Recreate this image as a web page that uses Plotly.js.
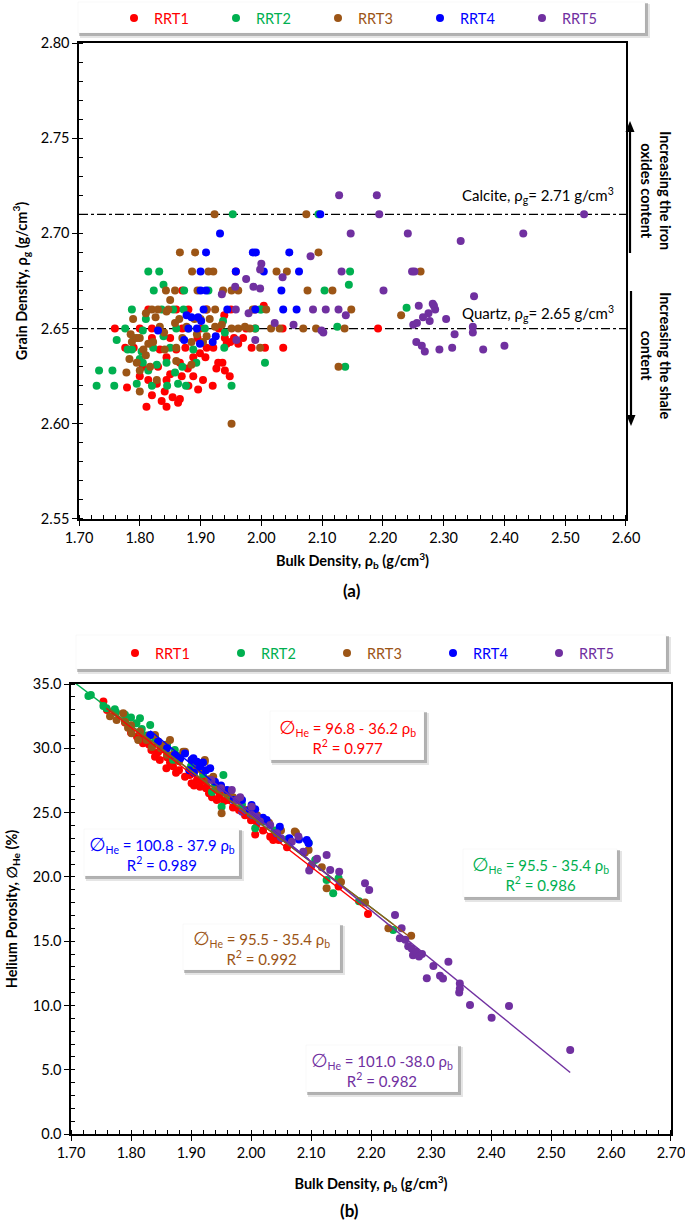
<!DOCTYPE html>
<html><head><meta charset="utf-8">
<script src="https://cdn.plot.ly/plotly-3.0.1.min.js"></script>
<style>html,body{margin:0;padding:0;background:#fff}#chart{width:685px;height:1224px}</style>
</head><body><div id="chart"></div>
<script>
// ---------------- DATA ----------------
const categories = ['RRT1', 'RRT2', 'RRT3', 'RRT4', 'RRT5'];

// (a) Bulk density vs grain density
const rhobA_RRT1 = [1.759,1.776,1.779,1.811,1.836,1.844,1.854,1.863,1.866,1.841,1.814,1.844,1.869,1.888,1.904,1.896,1.929,1.936,1.926,1.940,1.948,1.899,1.908,1.910,1.921,1.943,1.949,1.962,1.984,2.006,2.036,1.939,2.004,2.035,1.814,1.870,1.958,1.833,1.844,1.860,1.866,1.800,1.850,1.828,1.879,1.888,2.192,1.800,1.820,1.870,1.900,1.930,1.975,1.990,1.790,1.820,1.830,1.850,1.875,1.895,1.940,1.955,1.860,1.880,1.910,1.950,1.880,1.820,1.805,1.920,1.990,1.970];
const rhogA_RRT1 = [2.650,2.640,2.619,2.609,2.612,2.609,2.614,2.611,2.613,2.617,2.623,2.623,2.625,2.625,2.623,2.618,2.632,2.632,2.629,2.628,2.625,2.637,2.635,2.640,2.640,2.642,2.643,2.642,2.640,2.640,2.640,2.657,2.662,2.650,2.660,2.670,2.680,2.639,2.635,2.639,2.632,2.625,2.626,2.621,2.629,2.635,2.650,2.650,2.650,2.650,2.650,2.650,2.650,2.650,2.640,2.645,2.630,2.645,2.640,2.645,2.645,2.645,2.660,2.660,2.660,2.660,2.620,2.615,2.630,2.620,2.660,2.645];

const rhobA_RRT2 = [1.733,1.755,1.729,1.758,1.762,1.780,1.787,1.800,1.805,1.795,1.814,1.828,1.844,1.858,1.863,1.876,1.888,1.893,1.940,1.939,1.951,2.006,1.937,1.839,1.805,1.776,1.803,1.822,1.872,1.855,1.836,1.787,1.814,1.832,1.823,1.839,1.873,1.913,1.953,1.998,2.094,2.104,2.125,2.146,2.144,2.138,2.239,1.850,1.870,1.880,1.810,1.790,1.860,1.820,1.845,1.907,1.990,2.000];
const rhogA_RRT2 = [2.628,2.628,2.620,2.620,2.644,2.639,2.639,2.634,2.632,2.621,2.628,2.631,2.632,2.627,2.621,2.620,2.639,2.632,2.648,2.640,2.620,2.632,2.654,2.646,2.649,2.650,2.638,2.640,2.660,2.660,2.660,2.660,2.680,2.680,2.670,2.673,2.670,2.670,2.710,2.660,2.710,2.670,2.651,2.680,2.673,2.630,2.661,2.640,2.630,2.650,2.655,2.645,2.650,2.620,2.620,2.650,2.650,2.660];

const rhobA_RRT3 = [1.778,1.800,1.783,1.787,1.785,1.789,1.810,1.826,1.844,1.833,1.858,1.877,1.894,1.910,1.904,1.885,1.860,1.841,1.822,1.814,1.806,1.810,1.795,1.800,1.817,1.828,1.860,1.885,1.924,1.935,1.951,1.962,1.973,1.981,2.016,2.069,2.137,2.148,1.998,1.866,1.891,2.094,1.923,2.074,1.886,1.913,1.921,2.025,2.042,2.262,1.843,1.858,1.895,1.937,1.951,1.962,2.076,2.117,1.847,1.910,1.924,1.986,2.008,2.127,1.951,2.230,1.795,1.840,1.870,1.900,1.820,1.850,1.830,1.865,1.890,1.800,1.915,2.030,2.090];
const rhogA_RRT3 = [2.627,2.617,2.634,2.643,2.647,2.655,2.658,2.656,2.659,2.651,2.653,2.651,2.647,2.646,2.643,2.643,2.640,2.639,2.643,2.642,2.639,2.636,2.632,2.628,2.630,2.623,2.633,2.631,2.651,2.652,2.650,2.650,2.651,2.650,2.650,2.650,2.650,2.660,2.640,2.690,2.690,2.690,2.710,2.710,2.680,2.680,2.680,2.680,2.680,2.680,2.670,2.670,2.670,2.670,2.670,2.670,2.670,2.670,2.660,2.660,2.660,2.660,2.660,2.630,2.600,2.657,2.645,2.648,2.645,2.655,2.660,2.665,2.660,2.655,2.655,2.645,2.655,2.650,2.650];

const rhobA_RRT4 = [1.830,1.877,1.885,1.896,1.901,1.894,1.873,1.899,1.920,1.925,1.944,1.990,2.036,2.058,2.033,1.900,1.909,1.900,1.958,2.004,2.062,1.909,1.986,1.991,2.046,1.932,2.097,1.905,1.880];
const rhogA_RRT4 = [2.649,2.657,2.656,2.656,2.654,2.650,2.644,2.642,2.643,2.646,2.660,2.660,2.660,2.660,2.670,2.670,2.670,2.680,2.680,2.680,2.680,2.690,2.690,2.690,2.690,2.700,2.710,2.660,2.650];

const rhobA_RRT5 = [1.935,1.957,1.975,2.000,1.998,1.987,1.998,2.035,1.958,1.959,1.990,1.979,2.022,2.053,2.099,2.102,2.085,2.106,2.127,2.139,2.081,2.132,2.147,2.128,2.190,2.194,2.241,2.328,2.201,2.248,2.252,2.350,2.259,2.284,2.275,2.266,2.250,2.256,2.277,2.304,2.348,2.348,2.318,2.255,2.264,2.269,2.293,2.314,2.365,2.400,2.431,2.531,2.286,2.282];
const rhogA_RRT5 = [2.668,2.672,2.676,2.684,2.681,2.672,2.671,2.677,2.660,2.644,2.644,2.658,2.653,2.652,2.649,2.648,2.660,2.660,2.660,2.657,2.688,2.680,2.700,2.720,2.720,2.710,2.700,2.696,2.670,2.680,2.680,2.667,2.662,2.662,2.658,2.656,2.652,2.653,2.654,2.655,2.651,2.648,2.647,2.643,2.641,2.638,2.639,2.640,2.639,2.641,2.700,2.710,2.660,2.663];

// reference grain densities
const refNames = ['Quartz', 'Calcite'];
const refDensity = [2.65, 2.71];

// (b) Bulk density vs helium porosity
const rhobB_RRT1 = [1.754,1.760,1.790,1.800,1.810,1.820,1.820,1.830,1.834,1.840,1.845,1.848,1.850,1.859,1.860,1.865,1.870,1.875,1.880,1.890,1.898,1.901,1.905,1.910,1.915,1.920,1.925,1.926,1.930,1.934,1.935,1.943,1.948,1.955,1.960,1.970,1.980,1.990,2.000,2.007,2.010,2.020,2.032,2.037,2.046,2.060,2.100,2.146,2.195];
const phiB_RRT1 = [33.63,32.98,32.00,31.20,30.90,30.40,30.80,30.30,29.86,29.35,29.70,29.09,29.90,28.44,29.30,28.90,28.60,28.10,28.30,27.79,27.92,27.28,27.10,27.53,27.00,27.53,26.90,27.01,26.50,26.63,26.20,25.98,26.37,25.90,25.98,25.40,25.20,24.80,24.40,23.30,24.20,23.60,23.12,22.87,22.87,22.30,20.80,19.25,17.11];

const rhobB_RRT2 = [1.729,1.733,1.754,1.759,1.773,1.775,1.790,1.800,1.809,1.815,1.818,1.825,1.832,1.840,1.850,1.860,1.870,1.873,1.880,1.900,1.920,1.935,1.940,1.951,1.954,1.965,1.985,2.000,2.007,2.020,2.040,2.060,2.096,2.107,2.126,2.137,2.146,2.180,2.237];
const phiB_RRT2 = [34.07,34.15,33.29,33.11,33.03,32.80,32.60,32.40,31.94,32.33,31.50,31.00,31.81,30.80,30.20,30.30,29.10,29.86,29.40,28.60,28.00,26.60,27.20,25.46,27.92,26.40,25.60,24.80,23.78,24.30,23.60,22.90,22.66,21.31,19.76,18.72,19.89,18.10,15.87];

const rhobB_RRT3 = [1.765,1.776,1.787,1.790,1.795,1.800,1.801,1.812,1.815,1.826,1.830,1.835,1.840,1.846,1.850,1.857,1.860,1.865,1.870,1.880,1.887,1.890,1.901,1.910,1.918,1.923,1.923,1.930,1.937,1.945,1.950,1.951,1.960,1.970,1.980,1.993,2.010,2.030,2.050,2.073,2.075,2.090,2.096,2.118,2.126,2.150,2.190,2.229,2.267];
const phiB_RRT3 = [32.50,32.20,32.72,32.07,31.60,31.80,31.17,30.64,31.30,30.64,31.00,30.10,31.03,30.51,30.00,30.25,29.50,30.64,29.50,29.00,29.74,29.73,29.09,28.40,28.31,29.09,28.96,27.60,27.79,26.80,27.00,24.94,26.50,26.20,25.90,25.20,24.80,24.20,23.60,23.52,23.43,21.90,22.09,20.74,19.11,19.60,18.00,16.00,15.42];

const rhobB_RRT4 = [1.832,1.845,1.860,1.873,1.882,1.890,1.897,1.901,1.904,1.905,1.910,1.915,1.920,1.925,1.932,1.940,1.950,1.960,1.971,1.985,1.998,2.001,2.007,2.020,2.026,2.043,2.048,2.064,2.080,2.093,2.096];
const phiB_RRT4 = [31.03,30.50,30.00,29.47,29.21,29.60,28.30,29.09,29.22,28.10,28.96,28.60,28.90,28.30,28.44,27.40,27.10,26.76,25.98,25.98,25.20,25.59,25.26,24.60,24.42,23.40,23.90,23.00,22.90,22.87,22.61];

const rhobB_RRT5 = [1.934,1.950,1.968,1.976,1.982,1.985,2.001,2.001,2.009,2.015,2.032,2.043,2.050,2.068,2.079,2.087,2.097,2.101,2.110,2.126,2.132,2.147,2.190,2.197,2.240,2.251,2.248,2.257,2.262,2.268,2.270,2.275,2.280,2.285,2.293,2.304,2.315,2.320,2.329,2.347,2.348,2.348,2.365,2.401,2.430,2.532];
const phiB_RRT5 = [27.53,26.90,26.76,25.98,26.19,25.07,25.46,24.81,24.68,24.30,24.03,23.39,23.00,22.74,23.13,21.96,20.50,20.92,21.40,21.70,20.53,20.40,19.50,18.98,17.03,16.00,15.22,15.10,14.60,14.40,13.90,14.20,13.80,14.00,12.11,13.07,12.30,12.10,13.40,11.00,11.70,11.30,10.03,9.05,9.96,6.53];

// linear fits  phi = a + b * rho_b
const fitIntercept = [96.8, 95.5, 95.5, 100.8, 101.0];
const fitSlope = [-36.2, -35.4, -35.4, -37.9, -38.0];
const fitR2 = [0.977, 0.986, 0.992, 0.989, 0.982];
const fitXStart = [1.759, 1.700, 1.765, 1.832, 1.934];
const fitXEnd = [2.195, 2.237, 2.267, 2.096, 2.532];
const eqLabels = ['96.8 - 36.2', '95.5 - 35.4', '95.5 - 35.4', '100.8 - 37.9', '101.0 -38.0'];

// ---------------- STYLE / LAYOUT ----------------
const colors = ['#FF0000', '#00B050', '#9C5516', '#0000FF', '#7030A0'];
const FONT = 'Lato, "Open Sans", "DejaVu Sans", sans-serif';
const W = 685, H = 1224;
const PX = v => v / W;
const PY = v => 1 - v / H;

const rhobA = [rhobA_RRT1, rhobA_RRT2, rhobA_RRT3, rhobA_RRT4, rhobA_RRT5];
const rhogA = [rhogA_RRT1, rhogA_RRT2, rhogA_RRT3, rhogA_RRT4, rhogA_RRT5];
const rhobB = [rhobB_RRT1, rhobB_RRT2, rhobB_RRT3, rhobB_RRT4, rhobB_RRT5];
const phiB = [phiB_RRT1, phiB_RRT2, phiB_RRT3, phiB_RRT4, phiB_RRT5];

const traces = [];
categories.forEach((c, i) => {
  traces.push({
    type: 'scatter', mode: 'markers', x: rhobA[i], y: rhogA[i],
    xaxis: 'x', yaxis: 'y', legend: 'legend',
    name: `<span style="color:${colors[i]}">${c}</span>`,
    marker: { color: colors[i], size: 8 }, hoverinfo: 'x+y'
  });
});
categories.forEach((c, i) => {
  traces.push({
    type: 'scatter', mode: 'markers', x: rhobB[i], y: phiB[i],
    xaxis: 'x2', yaxis: 'y2', legend: 'legend2',
    name: `<span style="color:${colors[i]}">${c}</span>`,
    marker: { color: colors[i], size: 8 }, hoverinfo: 'x+y'
  });
});
categories.forEach((c, i) => {
  const xs = [fitXStart[i], fitXEnd[i]];
  traces.push({
    type: 'scatter', mode: 'lines', x: xs,
    y: xs.map(v => fitIntercept[i] + fitSlope[i] * v),
    xaxis: 'x2', yaxis: 'y2', showlegend: false,
    line: { color: colors[i], width: 1.4 }, hoverinfo: 'skip'
  });
});

const minorStyle = { ticks: 'inside', ticklen: 4, tickwidth: 1, tickcolor: '#000', showgrid: false };
function axis(extra) {
  return Object.assign({
    showline: true, linecolor: '#000', linewidth: 1.6, mirror: true,
    ticks: 'outside', ticklen: 5, tickwidth: 1, tickcolor: '#000',
    showgrid: false, zeroline: false, ticklabeloverflow: 'allow',
    tickfont: { family: FONT, size: 14.5, color: '#000' }
  }, extra);
}
const titleFont = { family: FONT, size: 14.5, color: '#000' };

const layout = {
  width: W, height: H, margin: { l: 0, r: 0, t: 0, b: 0 },
  paper_bgcolor: '#fff', plot_bgcolor: '#fff',
  font: { family: FONT, color: '#000', size: 14 },
  xaxis: axis({
    domain: [PX(79), PX(626)], anchor: 'y', range: [1.69999, 2.60001],
    tick0: 1.7, dtick: 0.1, tickformat: '.2f',
    minor: Object.assign({ dtick: 0.02, tick0: 1.7 }, minorStyle),
    title: { text: '<b>Bulk Density, ρ<sub>b</sub> (g/cm<sup>3</sup>)</b>', font: titleFont, standoff: 11 }
  }),
  yaxis: axis({
    domain: [PY(519), PY(43)], anchor: 'x', range: [2.54999, 2.80001],
    tick0: 2.55, dtick: 0.05, tickformat: '.2f',
    minor: Object.assign({ dtick: 0.01, tick0: 2.55 }, minorStyle),
    title: { text: '<b>Grain Density, ρ<sub>g</sub> (g/cm<sup>3</sup>)</b>', font: titleFont, standoff: 10 }
  }),
  xaxis2: axis({
    domain: [PX(71), PX(671)], anchor: 'y2', range: [1.69999, 2.70001],
    tick0: 1.7, dtick: 0.1, tickformat: '.2f',
    minor: Object.assign({ dtick: 0.02, tick0: 1.7 }, minorStyle),
    title: { text: '<b>Bulk Density, ρ<sub>b</sub> (g/cm<sup>3</sup>)</b>', font: titleFont, standoff: 19 }
  }),
  yaxis2: axis({
    domain: [PY(1134), PY(684)], anchor: 'x2', range: [0, 35.0001],
    tick0: 0, dtick: 5, tickformat: '.1f',
    minor: Object.assign({ dtick: 1, tick0: 0 }, minorStyle),
    title: { text: '<b>Helium Porosity, ∅<sub>He</sub> (%)</b>', font: titleFont, standoff: 12 }
  }),
  legend: {
    orientation: 'h', x: PX(114), xanchor: 'left', y: PY(18), yanchor: 'middle',
    bgcolor: 'rgba(0,0,0,0)', borderwidth: 0, font: { family: FONT, size: 14.5 },
    entrywidth: 57, entrywidthmode: 'pixels', itemwidth: 30, traceorder: 'normal'
  },
  legend2: {
    orientation: 'h', x: PX(115), xanchor: 'left', y: PY(653), yanchor: 'middle',
    bgcolor: 'rgba(0,0,0,0)', borderwidth: 0, font: { family: FONT, size: 14.5 },
    entrywidth: 61, entrywidthmode: 'pixels', itemwidth: 30, traceorder: 'normal'
  },
  shapes: [],
  annotations: []
};

// reference lines (calcite / quartz)
refDensity.forEach(v => {
  layout.shapes.push({ type: 'line', xref: 'x', yref: 'y', x0: 1.7, x1: 2.6, y0: v, y1: v,
    line: { color: '#000', width: 1.2, dash: 'dashdot' }, layer: 'below' });
});

// side arrows (line + filled head)
function vArrow(xp, yTail, yHead) {
  const dir = yHead < yTail ? 1 : -1;
  const base = yHead + dir * 11;
  layout.shapes.push({ type: 'line', xref: 'paper', yref: 'paper',
    x0: PX(xp), x1: PX(xp), y0: PY(yTail), y1: PY(base), line: { color: '#000', width: 2.2 } });
  layout.shapes.push({ type: 'path', xref: 'paper', yref: 'paper', fillcolor: '#000', line: { width: 0 },
    path: `M ${PX(xp - 4.5)} ${PY(base)} L ${PX(xp + 4.5)} ${PY(base)} L ${PX(xp)} ${PY(yHead)} Z` });
}
vArrow(630, 253, 121);
vArrow(631, 291, 426);

// shadowed boxes (legend frames and equation boxes)
function box(x0, y0, x1, y1) {
  layout.shapes.push({ type: 'rect', xref: 'paper', yref: 'paper', layer: 'above',
    x0: PX(x0 + 2), x1: PX(x1 + 5), y0: PY(y0 + 2), y1: PY(y1 + 5),
    fillcolor: 'rgba(0,0,0,0.10)', line: { width: 0 } });
  layout.shapes.push({ type: 'rect', xref: 'paper', yref: 'paper', layer: 'above',
    x0: PX(x0 + 1), x1: PX(x1 + 3), y0: PY(y0 + 1), y1: PY(y1 + 3),
    fillcolor: 'rgba(0,0,0,0.22)', line: { width: 0 } });
  layout.shapes.push({ type: 'rect', xref: 'paper', yref: 'paper', layer: 'above',
    x0: PX(x0), x1: PX(x1), y0: PY(y0), y1: PY(y1),
    fillcolor: '#fff', line: { width: 0.5, color: 'rgba(0,0,0,0.06)' } });
}
box(78, 2, 645, 33);
box(76, 635, 666, 669);
const eqBoxes = [[270, 711, 424, 760], [463, 849, 617, 897], [183, 924, 340, 970], [84, 829, 239, 876], [306, 1045, 458, 1092]];
eqBoxes.forEach(b => box(b[0], b[1], b[2], b[3]));

// equation labels
categories.forEach((c, i) => {
  const b = eqBoxes[i];
  layout.annotations.push({
    xref: 'paper', yref: 'paper', x: PX((b[0] + b[2]) / 2), y: PY((b[1] + b[3]) / 2),
    xanchor: 'center', yanchor: 'middle', showarrow: false, align: 'center',
    font: { family: FONT, size: 15, color: colors[i] },
    text: `<span style="font-size:19px">∅</span><sub>He</sub> = ${eqLabels[i]} ρ<sub>b</sub><br>R<sup>2</sup> = ${fitR2[i].toFixed(3)}`
  });
});

// mineral labels
layout.annotations.push({ xref: 'paper', yref: 'paper', x: PX(538), y: PY(196), xanchor: 'center', yanchor: 'middle',
  showarrow: false, font: { family: FONT, size: 15, color: '#000' },
  text: `${refNames[1]}, ρ<sub>g</sub>= ${refDensity[1].toFixed(2)} g/cm<sup>3</sup>` });
layout.annotations.push({ xref: 'paper', yref: 'paper', x: PX(538), y: PY(313), xanchor: 'center', yanchor: 'middle',
  showarrow: false, font: { family: FONT, size: 15, color: '#000' },
  text: `${refNames[0]}, ρ<sub>g</sub>= ${refDensity[0].toFixed(2)} g/cm<sup>3</sup>` });

// rotated notes
layout.annotations.push({ xref: 'paper', yref: 'paper', x: PX(656), y: PY(190), xanchor: 'center', yanchor: 'middle',
  showarrow: false, textangle: 90, font: { family: FONT, size: 14.5, color: '#000' },
  text: '<b>Increasing the iron<br>oxides content</b>' });
layout.annotations.push({ xref: 'paper', yref: 'paper', x: PX(656), y: PY(355), xanchor: 'center', yanchor: 'middle',
  showarrow: false, textangle: 90, font: { family: FONT, size: 14.5, color: '#000' },
  text: '<b>Increasing the shale<br>content</b>' });

// panel labels
layout.annotations.push({ xref: 'paper', yref: 'paper', x: PX(352), y: PY(590), xanchor: 'center', yanchor: 'middle',
  showarrow: false, font: { family: FONT, size: 17, color: '#000' }, text: '<b>(a)</b>' });
layout.annotations.push({ xref: 'paper', yref: 'paper', x: PX(349), y: PY(1210), xanchor: 'center', yanchor: 'middle',
  showarrow: false, font: { family: FONT, size: 17, color: '#000' }, text: '<b>(b)</b>' });

Plotly.newPlot('chart', traces, layout, { displayModeBar: false, staticPlot: true });
</script>
</body></html>
